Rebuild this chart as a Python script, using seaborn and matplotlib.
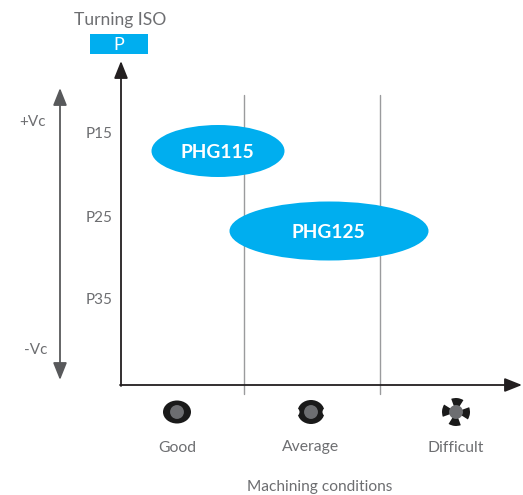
import matplotlib
matplotlib.use("Agg")
import matplotlib.pyplot as plt
from matplotlib.patches import Ellipse, Wedge, Rectangle
import pandas as pd
import seaborn as sns

sns.set_theme(style="white")
plt.rcParams['font.family'] = ['Lato', 'DejaVu Sans']

BLUE = '#00aeef'
GRAY = '#6d6e71'
DARK = '#231f20'

# everything is laid out in picture pixels
products = ['PHG115', 'PHG125']
product_x = [218, 329]
product_y = [151, 231]
product_w = [133, 199]
product_h = [52, 59]

grades = ['P15', 'P25', 'P35']
grade_y = [132, 217, 298]

conditions = ['Good', 'Average', 'Difficult']
condition_x = [177, 311, 456]
icon_x = [177, 311, 456]
icon_y = [412, 412, 412]
divider_x = [244, 380]

fig = plt.figure(figsize=(5.23, 4.95), dpi=100)
ax = fig.add_axes([0, 0, 1, 1])

for x in divider_x:
    ax.plot([x, x], [95, 394], color='#9a9b9d', lw=1, zorder=1)

arrow = dict(arrowstyle='-|>,head_length=0.75,head_width=0.3', color=DARK, lw=1.3,
             mutation_scale=14, shrinkA=0, shrinkB=0)
ax.annotate('', xy=(121, 61), xytext=(121, 386), arrowprops=arrow)
ax.annotate('', xy=(522, 385), xytext=(120, 385), arrowprops=arrow)
vc = dict(arrowstyle='<|-|>,head_length=0.75,head_width=0.3', color='#58595b', lw=1.3,
          mutation_scale=14, shrinkA=0, shrinkB=0)
ax.annotate('', xy=(60, 88), xytext=(60, 380), arrowprops=vc)

for name, x, y, w, h in zip(products, product_x, product_y, product_w, product_h):
    ax.add_patch(Ellipse((x, y), w, h, color=BLUE, lw=0, zorder=2))
    ax.text(x - 1, y, name, color='white', fontsize=13.8, fontweight='bold',
            ha='center', va='center_baseline', zorder=3)

for name, y in zip(grades, grade_y):
    ax.text(99, y, name, color=GRAY, fontsize=11, ha='center', va='center_baseline')

ax.text(120, 19, 'Turning ISO', color=GRAY, fontsize=12.6, ha='center', va='center_baseline')
ax.add_patch(Rectangle((90, 34), 58, 20, color=BLUE, lw=0))
ax.text(119, 44, 'P', color='white', fontsize=13, ha='center', va='center_baseline')
ax.text(32, 121, '+Vc', color=GRAY, fontsize=11, ha='center', va='center_baseline')
ax.text(36, 348, '-Vc', color=GRAY, fontsize=11, ha='center', va='center_baseline')

for name, x in zip(conditions, condition_x):
    ax.text(x, 446, name, color=GRAY, fontsize=11.3, ha='center', va='center_baseline')
ax.text(320, 486, 'Machining conditions', color=GRAY, fontsize=11.2, ha='center', va='center_baseline')

# condition icons: dark body first, then the grey hub on top
ax.add_patch(Ellipse((icon_x[0], icon_y[0]), 28, 23, color='#1a1a1a', lw=0))
ax.add_patch(Ellipse((icon_x[1], icon_y[1]), 27, 24, color='#1a1a1a', lw=0))
for side in (-1, 1):
    ax.add_patch(Ellipse((icon_x[1] + side * 16, icon_y[1]), 9, 9, color='white', lw=0))
# y axis is inverted here, so wedge angles run clockwise on screen
for start in (-110, -20, 70, 160):
    ax.add_patch(Wedge((icon_x[2], icon_y[2]), 14, start, start + 52, color='#1a1a1a', lw=0))
ax.add_patch(Ellipse((icon_x[2], icon_y[2]), 12, 12, color='#1a1a1a', lw=0))

hubs = pd.DataFrame({'x': icon_x, 'y': icon_y})
sns.scatterplot(data=hubs, x='x', y='y', s=100, color='#6d6e71', edgecolor='none',
                legend=False, ax=ax, zorder=5)
ax.set_xlim(0, 523)
ax.set_ylim(495, 0)
ax.axis('off')

fig.savefig('out.png', dpi=100)
